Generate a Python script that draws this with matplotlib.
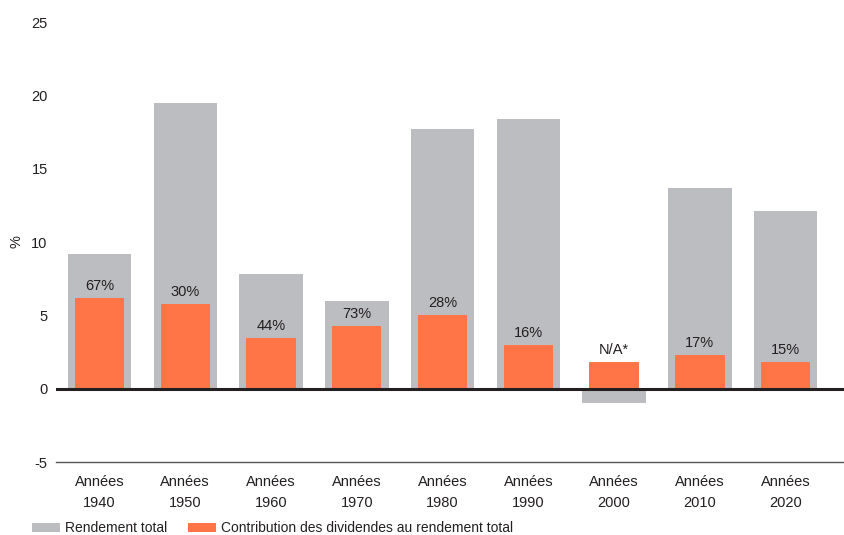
import matplotlib.pyplot as plt
import numpy as np

# -----------------------
# Data
# -----------------------
decades = ["1940", "1950", "1960", "1970", "1980", "1990", "2000", "2010", "2020"]
total_return = [9.2, 19.5, 7.85, 5.95, 17.7, 18.4, -1.0, 13.65, 12.1]
dividend_part = [6.2, 5.8, 3.45, 4.3, 5.0, 3.0, 1.85, 2.3, 1.85]
share_labels = ["67%", "30%", "44%", "73%", "28%", "16%", "N/A*", "17%", "15%"]

gray = "#BCBDC0"
orange = "#FF7548"
text_col = "#231F20"

plt.rcParams['font.family'] = ['Liberation Sans', 'DejaVu Sans']
plt.rcParams['font.size'] = 10.5
plt.rcParams['axes.unicode_minus'] = False

fig = plt.figure(figsize=(8.44, 5.35), dpi=100)
ax = fig.add_axes([56 / 844, 73 / 535, 788 / 844, 440 / 535])

x = np.arange(len(decades))
ax.bar(x, total_return, width=0.74, color=gray, label="Rendement total", zorder=2)
ax.bar(x, dividend_part, width=0.575, color=orange,
       label="Contribution des dividendes au rendement total", zorder=3)

# dividend share labels above the orange bars
for xi, v, lab in zip(x, dividend_part, share_labels):
    ax.annotate(lab, (xi, v), xytext=(0, 3.5), textcoords="offset points",
                ha="center", va="bottom", color=text_col, fontsize=10.5, zorder=4)

ax.set_xlim(-0.507, 8.68)
ax.set_ylim(-5, 25)
ax.set_yticks([-5, 0, 5, 10, 15, 20, 25])
ax.set_xticks(x)
ax.set_xticklabels([f"Années\n{d}" for d in decades], linespacing=1.7)

for s in ax.spines.values():
    s.set_visible(False)
ax.tick_params(length=0, colors=text_col, labelsize=10.5)
ax.tick_params(axis="y", pad=6)
ax.tick_params(axis="x", pad=9)

# zero line and bottom rule
ax.axhline(0, color=text_col, lw=2.2, zorder=5)
ax.axhline(-5, color="#555555", lw=1.0, clip_on=False)

ax.set_ylabel("%", color=text_col, fontsize=10.5)
ax.yaxis.set_label_coords(-33 / 788, 0.5)

leg = fig.legend(loc="center left", bbox_to_anchor=(32 / 844, 7 / 535), ncol=2,
                 frameon=False, handlelength=2.0, handleheight=0.6, handletextpad=0.36,
                 columnspacing=1.5, fontsize=10, borderpad=0, borderaxespad=0)
for t in leg.get_texts():
    t.set_color(text_col)

fig.savefig("out.png", dpi=100)
